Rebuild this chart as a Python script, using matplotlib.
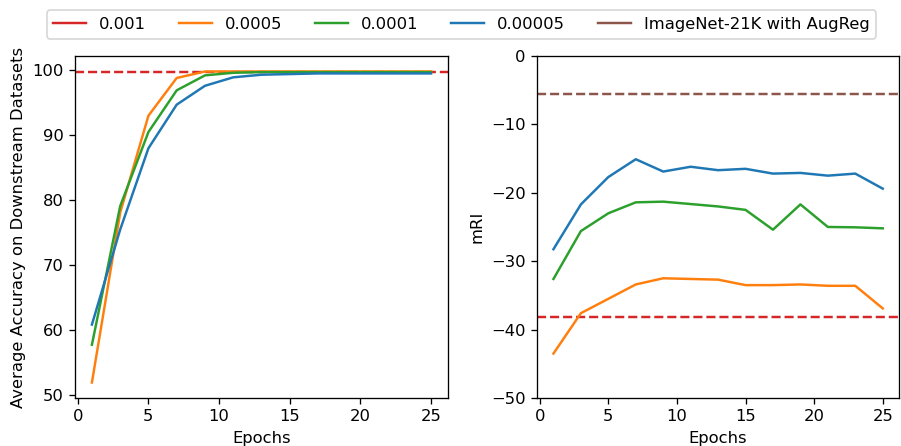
import matplotlib.pyplot as plt
from matplotlib.lines import Line2D

# 数据
epochs = [1, 3, 5, 7, 9, 11, 13, 15, 17, 19, 21, 23, 25]

acc_0005 = [52.0, 78.1, 93.0, 98.8, 99.8, 99.8, 99.8, 99.8, 99.8, 99.8, 99.8, 99.8, 99.8]
acc_0001 = [57.8, 79.1, 90.5, 96.9, 99.2, 99.6, 99.7, 99.7, 99.7, 99.7, 99.7, 99.7, 99.7]
acc_00005 = [60.9, 75.5, 88.0, 94.7, 97.6, 98.9, 99.3, 99.4, 99.5, 99.5, 99.5, 99.5, 99.5]
acc_001 = 99.7

mri_0005 = [-43.5, -37.6, -35.5, -33.4, -32.5, -32.6, -32.7, -33.5, -33.5, -33.4, -33.6, -33.6, -36.9]
mri_0001 = [-32.6, -25.6, -23.0, -21.4, -21.3, -21.65, -22.0, -22.5, -25.4, -21.7, -25.0, -25.05, -25.2]
mri_00005 = [-28.25, -21.7, -17.7, -15.1, -16.9, -16.2, -16.7, -16.5, -17.2, -17.1, -17.5, -17.2, -19.4]
mri_001 = -38.1
mri_augreg = -5.5

labels = ['0.001', '0.0005', '0.0001', '0.00005', 'ImageNet-21K with AugReg']
colors = ['tab:red', 'tab:orange', 'tab:green', 'tab:blue', 'tab:brown']

# 用较高 dpi 放大所有元素
DPI = 118
fig = plt.figure(figsize=(901 / DPI, 446 / DPI), dpi=DPI)
ax1 = fig.add_axes([0.0832, 0.1076, 0.414, 0.767])
ax2 = fig.add_axes([0.596, 0.1076, 0.402, 0.767])

# 左图：下游数据集平均准确率
ax1.axhline(acc_001, color=colors[0], linestyle='--')
ax1.plot(epochs, acc_0005, color=colors[1])
ax1.plot(epochs, acc_0001, color=colors[2])
ax1.plot(epochs, acc_00005, color=colors[3])
ax1.set_xlabel('Epochs')
ax1.set_ylabel('Average Accuracy on Downstream Datasets')
ax1.set_xticks([0, 5, 10, 15, 20, 25])

# 右图：mRI
ax2.axhline(mri_augreg, color=colors[4], linestyle='--')
ax2.axhline(mri_001, color=colors[0], linestyle='--')
ax2.plot(epochs, mri_0005, color=colors[1])
ax2.plot(epochs, mri_0001, color=colors[2])
ax2.plot(epochs, mri_00005, color=colors[3])
ax2.set_ylim(-50, 0)
ax2.set_xlabel('Epochs')
ax2.set_ylabel('mRI')
ax2.set_xticks([0, 5, 10, 15, 20, 25])

handles = [Line2D([0], [0], color=c) for c in colors]
fig.legend(handles, labels, loc='upper center', ncol=5,
           bbox_to_anchor=(0.512, 0.995))

fig.savefig('out.png', dpi=DPI)
